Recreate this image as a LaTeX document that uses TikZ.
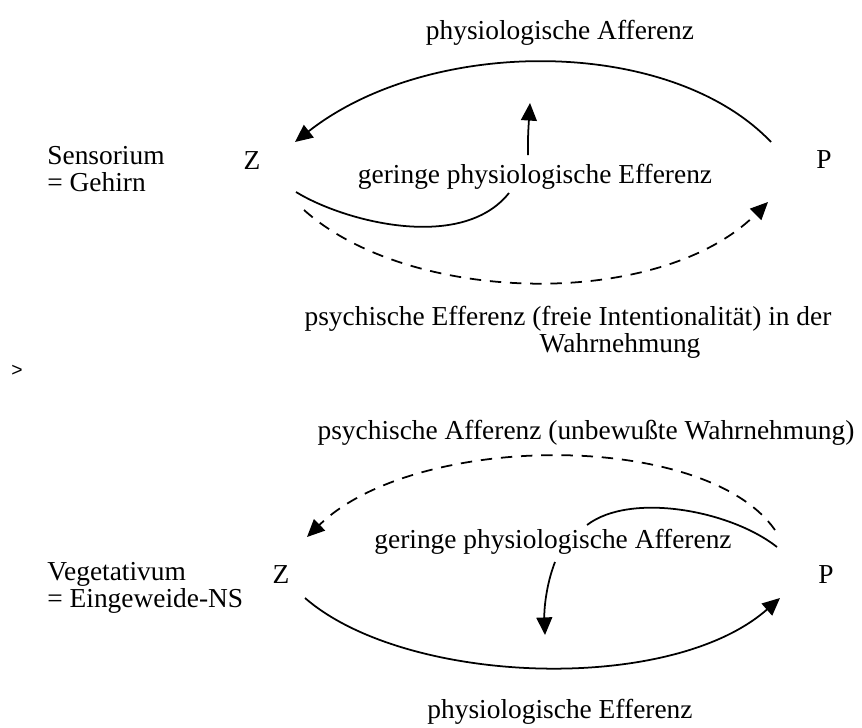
\documentclass[tikz,border=0pt]{standalone}
\usepackage{fontspec}
\setmainfont{Liberation Serif}
\newfontfamily\marksans{Liberation Sans}
\usetikzlibrary{arrows.meta}

\begin{document}
\begin{tikzpicture}[x=0.02cm,y=-0.02cm,
	txt/.style={font=\fontsize{15.6}{15.4}\selectfont, inner sep=0pt},
	line/.style={line width=1pt},
	tip/.style={-{Triangle[length=10pt,width=9pt]}},
	dashline/.style={dash pattern=on 6.5pt off 5pt}]
	\useasboundingbox (0,0) rectangle (862,727);
	% Sensorium = Gehirn
	\node[txt] (paff) at (560,33) {physiologische Afferenz};
	\node[txt, anchor=west, align=left] (sens) at (47,169) {Sensorium\\= Gehirn};
	\node[txt] (Zs) at (252,161) {Z};
	\node[txt] (Ps) at (824,160) {P};
	\node[txt] (geff) at (535,177) {geringe physiologische Efferenz};
	\node[txt, align=center] (peff) at (568,332) {psychische Efferenz (freie Intentionalität) in der\\\hspace*{3.8em}Wahrnehmung};
	\coordinate (s1) at (771,142);
	\coordinate (s2) at (295,142);
	\coordinate (s3) at (296,192);
	\coordinate (s4) at (509,193);
	\coordinate (s5) at (304,210);
	\coordinate (s6) at (768,202);
	\coordinate (s7) at (528,155);
	\coordinate (s8) at (530,103);
	\draw[line, tip] (s1) .. controls (670,36) and (430,36) .. (s2);
	\draw[line, tip] (s7) .. controls (528,135) .. (s8);
	\draw[line] (s3) .. controls (345,222) and (462,252) .. (s4);
	\draw[line, tip, dashline] (s5) .. controls (410,305) and (660,310) .. (s6);
	% separator
	\node[font=\marksans\fontsize{11}{12}\selectfont, inner sep=0pt] (sep) at (17,371) {>};
	% Vegetativum = Eingeweide-NS
	\node[txt] (paffu) at (586,433) {psychische Afferenz (unbewußte Wahrnehmung)};
	\node[txt, anchor=west, align=left] (veg) at (47,588) {Vegetativum\\= Eingeweide-NS};
	\node[txt] (Zv) at (281,575) {Z};
	\node[txt] (Pv) at (826,575) {P};
	\node[txt] (gaff) at (553,542) {geringe physiologische Afferenz};
	\node[txt] (pveff) at (560,712) {physiologische Efferenz};
	\coordinate (v1) at (775,530);
	\coordinate (v2) at (307,537);
	\coordinate (v3) at (777,547);
	\coordinate (v4) at (587,525);
	\coordinate (v5) at (555,562);
	\coordinate (v6) at (545,635);
	\coordinate (v7) at (305,598);
	\coordinate (v8) at (780,598);
	\draw[line, tip, dashline] (v1) .. controls (705,430) and (415,432) .. (v2);
	\draw[line] (v3) .. controls (730,510) and (630,492) .. (v4);
	\draw[line, tip] (v5) .. controls (546,585) and (544,610) .. (v6);
	\draw[line, tip] (v7) .. controls (405,685) and (670,695) .. (v8);
\end{tikzpicture}
\end{document}
